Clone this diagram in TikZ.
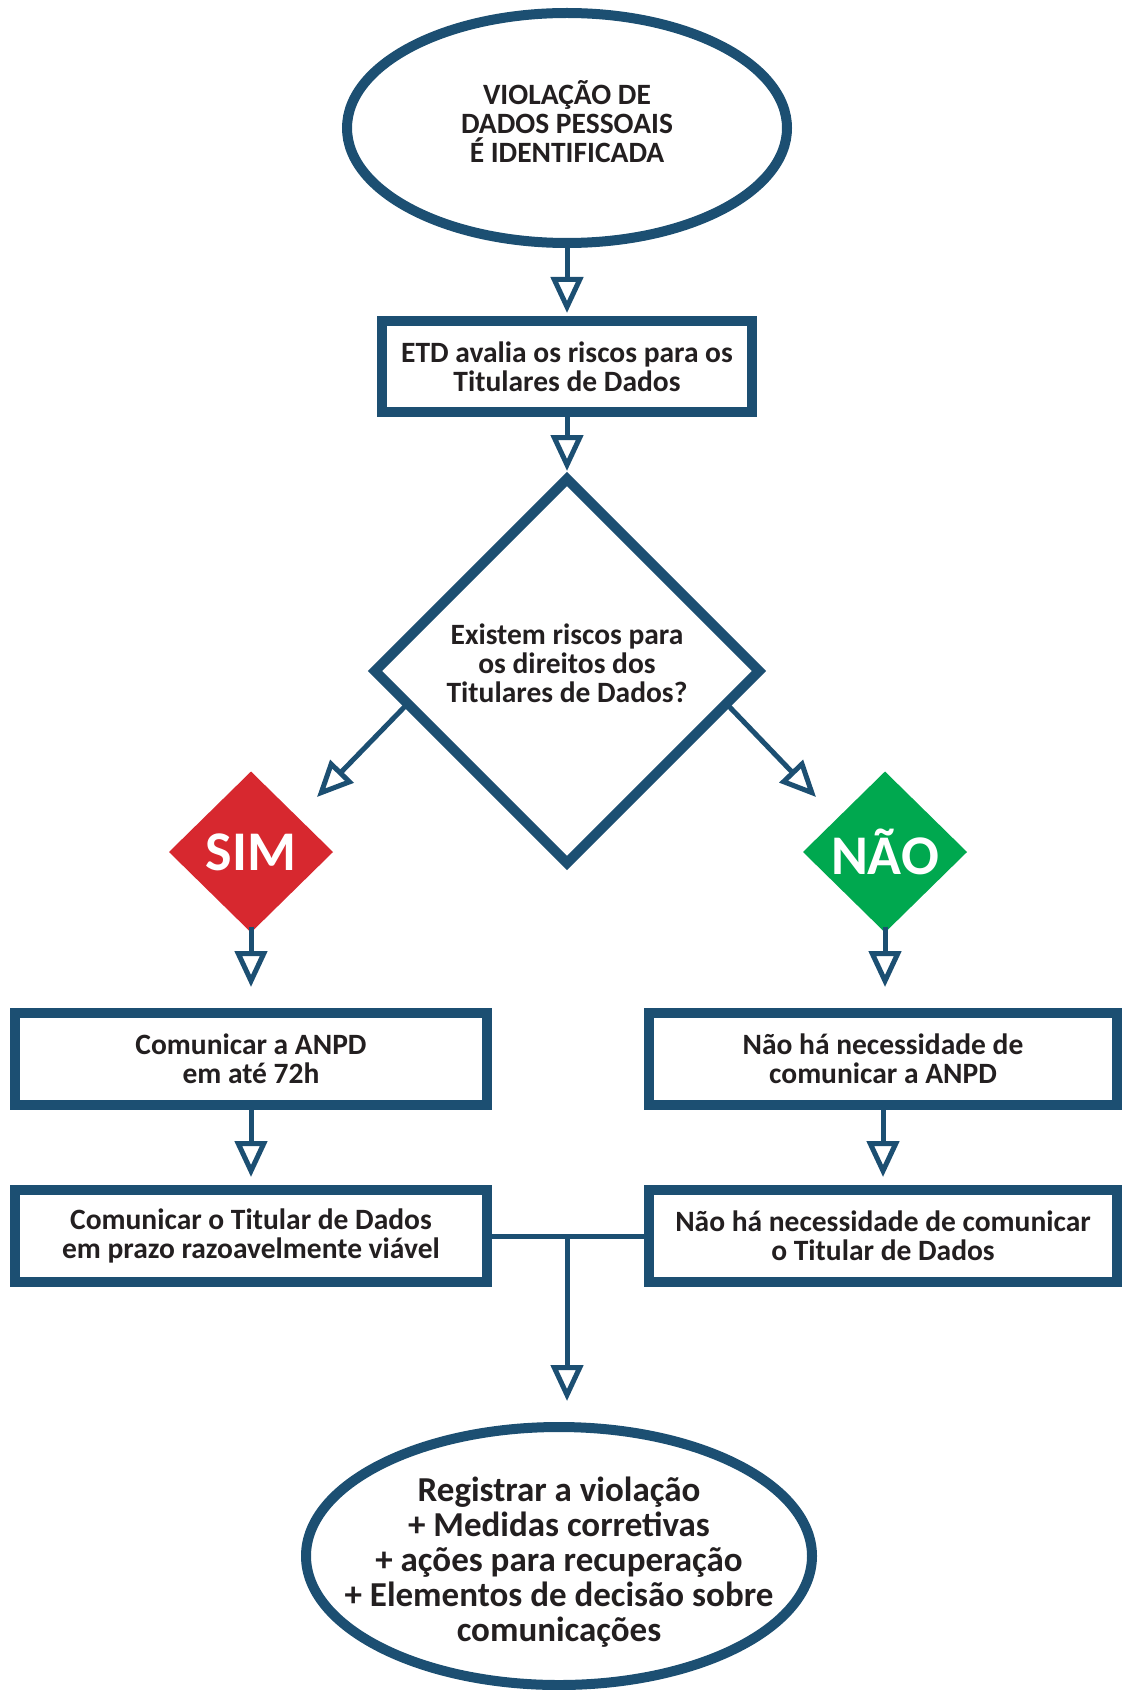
\documentclass[tikz,border=0pt]{standalone}
\usepackage{fontspec}
\setmainfont{Carlito}
\usetikzlibrary{shapes.geometric,arrows.meta,calc}
\definecolor{lineblue}{HTML}{1C4F72}
\definecolor{ink}{HTML}{231F20}
\definecolor{simred}{HTML}{D7282F}
\definecolor{naogreen}{HTML}{00A84F}
\begin{document}
\begin{tikzpicture}[x=0.5pt,y=-0.5pt,
  outer sep=0pt, inner sep=0pt,
  txt/.style={font=\bfseries\fontsize{14.75}{14.5}\selectfont, text=ink, align=center},
  bigtxt/.style={font=\bfseries\fontsize{17.5}{17.5}\selectfont, text=ink, align=center},
  shapebox/.style={draw=lineblue, line width=5pt, fill=white, rectangle},
  oval/.style={draw=lineblue, line width=5pt, ellipse},
  conn/.style={draw=lineblue, line width=2.5pt},
  arr/.style={conn, -{Triangle[open, length=18pt, width=16pt, fill=white]}},
  badge/.style={diamond, minimum width=82pt, minimum height=80.5pt, font=\bfseries\fontsize{28}{28}\selectfont, text=white}
]
\useasboundingbox (0,0) rectangle (1122,1690);
% shapes
\node[oval, minimum width=220pt, minimum height=115pt] (top) at (567,128) {};
\node[txt] (toptxt) at (567,122) {VIOLAÇÃO DE\\DADOS PESSOAIS\\É IDENTIFICADA};
\node[shapebox, txt, minimum width=185pt, minimum height=45.5pt] (box1) at (567,366.5) {ETD avalia os riscos para os\\Titulares de Dados};
\node[draw=lineblue, line width=5pt, diamond, minimum width=192pt, minimum height=192pt] (dia) at (567,671) {};
\node[txt] (diatxt) at (567,663) {Existem riscos para\\os direitos dos\\Titulares de Dados?};
\node[badge, fill=simred] (sim) at (251,852) {SIM};
\node[badge, fill=naogreen] (nao) at (885,852) {NÃO};
\node[shapebox, txt, minimum width=236pt, minimum height=46pt] (box2l) at (251,1059) {Comunicar a ANPD\\em até 72h};
\node[shapebox, txt, minimum width=234pt, minimum height=46pt] (box2r) at (883,1059) {Não há necessidade de\\comunicar a ANPD};
\node[shapebox, txt, minimum width=236pt, minimum height=46pt] (box3l) at (251,1236) {Comunicar o Titular de Dados\\em prazo razoavelmente viável};
\node[shapebox, txt, minimum width=234pt, minimum height=46pt] (box3r) at (883,1236) {Não há necessidade de comunicar\\o Titular de Dados};
\node[oval, minimum width=253pt, minimum height=129pt] (bot) at (559,1556) {};
\node[bigtxt] (bottxt) at (559,1562) {Registrar a violação\\+ Medidas corretivas\\+ ações para recuperação\\+ Elementos de decisão sobre\\comunicações};
% coordinates
\coordinate (simtip) at (317,797);
\coordinate (naotip) at (816,797);
\coordinate (j) at (567,1236);
% connectors
\draw[arr, shorten >=4pt] (top.south) -- (box1.north);
\draw[arr, shorten >=4pt] (box1.south) -- (dia.north);
\draw[arr] ($(dia.west)!0.17!(dia.south)$) -- (simtip);
\draw[arr] ($(dia.east)!0.17!(dia.south)$) -- (naotip);
\draw[arr, shorten <=-3pt, shorten >=13pt] (sim.south) -- (box2l.north);
\draw[arr, shorten <=-3pt, shorten >=13pt] (nao.south) -- (nao.south |- box2r.north);
\draw[arr, shorten >=6.5pt] (box2l.south) -- (box3l.north);
\draw[arr, shorten >=6.5pt] (box2r.south) -- (box3r.north);
\draw[conn] (box3l.east) -- (box3r.west);
\draw[arr, shorten >=13pt] (j) -- (j |- bot.north);
\end{tikzpicture}
\end{document}
